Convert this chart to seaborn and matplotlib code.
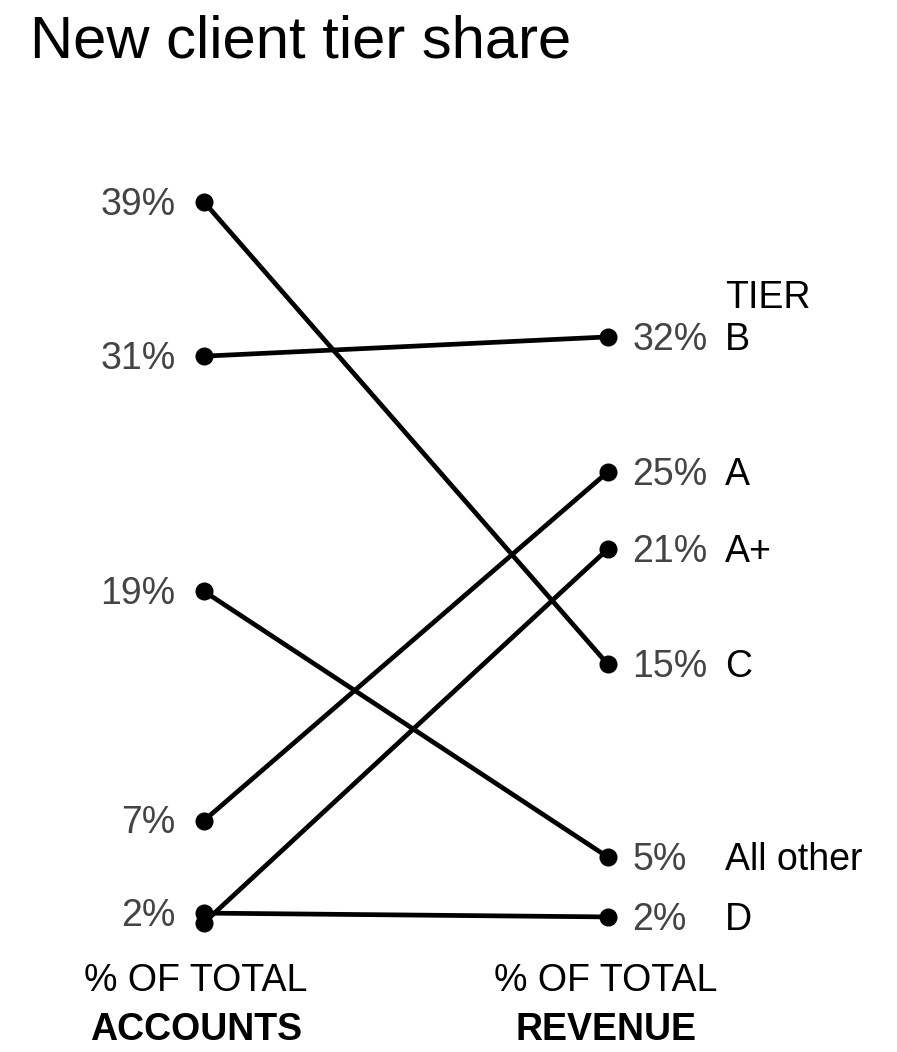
import pandas as pd
import numpy as np
import matplotlib.pyplot as plt
import seaborn as sns

# data
tiers = ["C", "B", "All other", "A", "A+", "D"]
accounts = [39.0, 31.0, 18.8, 6.9, 1.6, 2.1]
revenue = [15.0, 32.0, 5.0, 25.0, 21.0, 1.9]
side_labels = ["% OF TOTAL", "% OF TOTAL"]
side_bold = ["ACCOUNTS", "REVENUE"]

df = pd.DataFrame({
    "tier": tiers * 2,
    "pos": [0] * len(tiers) + [1] * len(tiers),
    "value": accounts + revenue,
})

sns.set_style("white")
plt.rcParams['font.family'] = ['Liberation Sans', 'DejaVu Sans']
plt.rcParams['text.color'] = 'black'

fig = plt.figure(figsize=(8.97, 10.52), dpi=100)
ax = fig.add_axes([0, 0, 1, 1])

sns.lineplot(data=df, x="pos", y="value", units="tier", estimator=None,
             color="black", linewidth=3.4, marker="o", markersize=13,
             markeredgewidth=0, ax=ax, legend=False)

# map data so x=0 sits at 204px, x=1 at 608px; 2% at 915px, 19.27px per %
ax.set_xlim(-204 / 404, (897 - 204) / 404)
ax.set_ylim(2 - 137 / 19.27, 2 + 915 / 19.27)
ax.set_axis_off()

fs = 27
gray = "#444444"
for t, a, r in zip(tiers, accounts, revenue):
    if t != "A+":
        ax.text(-0.07, a - 0.15, f"{a:.0f}%", ha="right", va="center", fontsize=fs, color=gray)
    ax.text(1.06, r - 0.15, f"{r:.0f}%", ha="left", va="center", fontsize=fs, color=gray)
    ax.text(1.29, r - 0.15, t, ha="left", va="center", fontsize=fs, color="black")

ax.text(1.29, 32.0 + 2.0, "TIER", ha="left", va="center", fontsize=fs, color="black")

for x, lab, bold in zip([-0.02, 0.995], side_labels, side_bold):
    ax.text(x, -1.4, lab, ha="center", va="center", fontsize=fs)
    ax.text(x, -3.95, bold, ha="center", va="center", fontsize=fs, fontweight="bold")

fig.text(30 / 897, 1 - 42 / 1052, "New client tier share", ha="left", va="center", fontsize=43)

fig.savefig("out.png", dpi=100)
